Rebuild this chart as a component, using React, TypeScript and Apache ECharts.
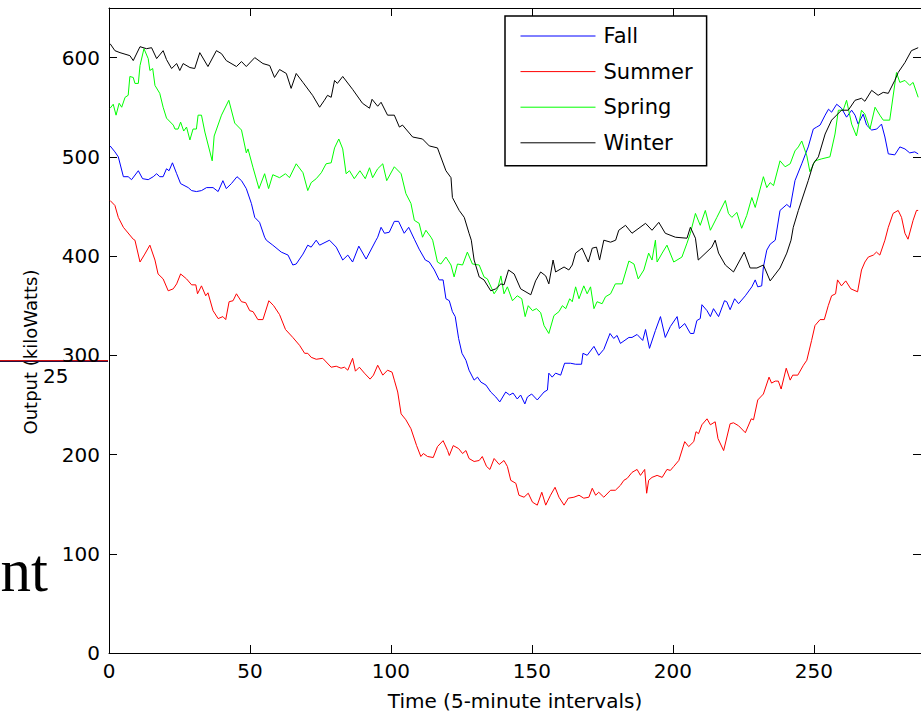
import React, { useEffect, useRef } from "react";
import * as echarts from "echarts";

const seriesNames = ["Fall", "Summer", "Spring", "Winter"];
const seriesColors = ["#0000ff", "#ff0000", "#00ff00", "#000000"];
const xTicks = [0, 50, 100, 150, 200, 250];
const yTicks = [0, 100, 200, 300, 400, 500, 600];

const fall: [number, number][] = [
  [0.4,511],[2.1,505],[3.3,500],[5.1,480],[6.8,480],[8,477],[10.4,486],[11.9,478],[13.9,477],[15.7,480],[16.9,483],[18,480],[19.2,480],[20.4,488],[21.3,486],[22.5,494],[24,483],[25.4,473],[28.1,469],[29.3,466],[31,465],[32.8,466],[34.6,469],[36.9,469],[38.7,465],[40.4,476],[41.6,468],[43.4,473],[45.4,480],[47,476],[48.7,468],[50.5,453],[51.7,439],[53.4,434],[55.2,419],[55.8,416],[58.1,411],[61.1,404],[63.5,401],[65.2,391],[66.4,392],[68.8,402],[70.5,411],[71.7,409],[73.5,416],[74.7,411],[78.2,416],[80.6,409],[82.9,396],[84.7,401],[86.4,394],[88.6,410],[91.2,397],[94.7,416],[95.3,419],[96.5,429],[97.7,423],[99.4,424],[101.2,435],[102.7,435],[104.7,423],[106.3,429],[108.3,417],[110,407],[112.2,396],[113.6,394],[115.4,386],[117.1,376],[118.5,376],[119.5,357],[120.7,355],[121.8,344],[122.8,339],[124,317],[125.2,302],[126.6,295],[127.7,285],[129.5,275],[130.7,278],[131.9,273],[133.7,270],[135.4,263],[137.2,258],[138.6,253],[140.7,263],[142.1,260],[143.3,262],[144.8,256],[146,260],[147.5,251],[148.4,258],[149.9,261],[151.9,255],[154.3,263],[155.5,265],[156,282],[157.2,278],[158.4,282],[160.2,280],[161.6,292],[163.7,292],[165.5,291],[167.6,291],[168.1,302],[169.6,300],[172,309],[173.7,300],[175.5,306],[177.7,322],[179,317],[180.2,320],[181.4,312],[184.4,318],[185.5,318],[187.3,321],[189.3,315],[190.3,326],[191.7,307],[193.8,325],[195.6,339],[197.3,318],[199.1,329],[201.5,339],[202.3,327],[204.2,332],[206.2,322],[207.4,322],[208.5,335],[209.7,337],[210.3,351],[212.1,345],[213.3,339],[214.4,347],[216.2,339],[218.3,355],[219.1,354],[220.3,346],[221.9,357],[223.3,352],[225.7,360],[228,369],[229.2,376],[230.1,369],[231.5,370],[232.1,389],[233.3,406],[234.5,412],[236.3,416],[238,446],[240.4,452],[241.6,449],[243.3,476],[245.7,493],[248,510],[249.8,528],[251,530],[252.2,532],[254,542],[255.2,548],[256.3,545],[258.1,553],[259.8,549],[261.6,540],[263.4,547],[264.6,542],[265.7,533],[267.5,543],[268.7,532],[270.5,527],[272.3,528],[274,533],[275.2,520],[276.4,503],[278.7,502],[280.5,510],[282.3,508],[284,504],[285.8,505],[287,503]
];

const summer: [number, number][] = [
  [0.4,456],[2.1,451],[3.3,439],[5.1,429],[8.6,417],[9.2,416],[11,394],[12.7,402],[14.5,411],[16.3,396],[17.4,382],[19.2,377],[21,365],[22.8,367],[24,372],[25.4,382],[27.5,377],[29.3,371],[30.8,371],[31.4,362],[32.8,370],[34.3,360],[35.1,363],[36.9,345],[38.7,337],[40.4,339],[41.4,336],[42.6,354],[44,355],[45.2,362],[47,354],[48.5,353],[49.9,345],[51.1,344],[52.8,336],[54.6,336],[56.7,355],[58.4,350],[60.5,341],[62.6,326],[65.2,318],[67.6,310],[69.4,302],[70.5,302],[71.7,298],[73.5,296],[75.8,297],[78.8,288],[80.6,289],[82.3,287],[83.5,288],[84.7,285],[86.4,297],[87.4,284],[88.8,288],[90.6,282],[92.6,276],[93.8,280],[95.3,290],[97.1,280],[98.8,285],[100.4,283],[101.2,275],[102.4,263],[103.6,241],[105.3,235],[107.1,226],[109.1,209],[110.6,198],[111.5,201],[113,198],[115,197],[116.5,208],[118.5,214],[120.1,204],[120.7,199],[122.1,209],[124,206],[125.4,201],[126.6,204],[127.7,196],[129.5,193],[131.3,194],[132.4,198],[133.9,188],[135.1,185],[136.6,196],[138.4,190],[140.1,194],[141.3,188],[142.5,174],[144.3,171],[145.4,159],[147.2,157],[148.7,161],[150.2,152],[151.9,149],[153.5,162],[154.9,149],[156.6,159],[158.2,167],[159.6,157],[161.4,149],[162.9,156],[164.9,157],[166.7,159],[168.4,156],[170.2,157],[171.4,166],[172.6,159],[173.7,162],[175.5,157],[177.9,164],[179.6,164],[181.4,169],[182.6,174],[183.8,176],[185.5,182],[187.3,185],[188.5,179],[190,185],[190.7,161],[191.4,174],[192.6,177],[194.4,179],[196.2,177],[197.9,185],[199.1,184],[200.3,188],[202.1,194],[204.2,213],[205.6,208],[207.4,213],[208.2,223],[209.1,221],[210.3,230],[212.1,236],[213.3,230],[215,233],[216,216],[218,204],[220.3,231],[221.5,232],[223.3,229],[225.7,222],[227.8,236],[228.6,235],[230.1,255],[232.1,261],[234.1,278],[235,272],[236.3,274],[237.4,274],[238.4,266],[240.2,287],[241.6,275],[242.5,280],[244.3,280],[246.3,290],[247.5,295],[249.2,315],[250.4,330],[252.2,336],[253.7,336],[255.1,350],[256.3,360],[257.7,362],[258.4,376],[259.8,370],[261.3,375],[263.1,367],[265.5,364],[266.9,386],[268.1,394],[269.3,399],[271.1,401],[272.2,404],[273.4,401],[275.2,416],[276.4,429],[278.1,443],[279.9,446],[281.1,439],[282.3,423],[283.4,417],[285.2,436],[286.4,446],[287,446]
];

const spring: [number, number][] = [
  [0.4,549],[1.5,553],[2.5,542],[3.6,554],[4.5,550],[5.7,560],[6.8,562],[7.4,581],[8.6,580],[9.2,574],[10.4,574],[11,592],[12.4,609],[13.9,599],[14.5,587],[15.5,589],[16.3,572],[18,564],[19.2,550],[20.4,539],[22.8,532],[23.4,528],[24.5,528],[25.4,535],[26.5,526],[27.5,530],[28.7,517],[29.8,528],[31,528],[31.6,542],[32.8,542],[34,525],[36.6,496],[37.3,521],[39.9,542],[42.5,557],[44.6,534],[47,527],[48.7,504],[49.3,508],[51.1,489],[53.2,468],[55.2,483],[56.6,468],[58.1,482],[60.5,479],[62.6,483],[64,479],[66.4,493],[68.8,484],[70.5,466],[71.7,474],[73.5,478],[75.3,484],[77,493],[78.8,494],[80,509],[81.5,518],[82.9,508],[84.1,483],[85.3,486],[87,478],[89,486],[90.9,478],[92.4,489],[93.5,479],[95.3,488],[97.1,493],[98.5,476],[101.2,490],[103.6,483],[105.3,463],[107.1,453],[108.3,436],[110,433],[111.2,419],[112.4,426],[114.2,419],[114.8,416],[116.5,394],[117.7,392],[119.5,399],[121.3,391],[122.4,379],[123.6,392],[125.4,391],[127.1,404],[128.9,392],[131.3,391],[133,379],[134.2,377],[136.6,362],[137.8,367],[139,380],[140.1,362],[141.3,369],[143.1,355],[144.8,360],[146.4,357],[147.6,339],[148.7,350],[150.2,345],[151.6,347],[153.1,343],[154.3,330],[156,322],[157.8,340],[159.6,344],[160.8,350],[162,347],[163.4,357],[164.3,354],[165.5,369],[166.7,357],[168.4,370],[169.6,362],[170.8,369],[172,347],[173.1,354],[174.9,352],[176.1,359],[177.9,362],[179.6,372],[182,372],[184.4,395],[186.2,392],[187.7,377],[189.7,386],[191.4,403],[192.6,396],[193.8,416],[194.4,394],[196.2,403],[197.9,411],[200.3,394],[203.2,399],[205,413],[206.2,423],[208,443],[209.7,431],[211.5,446],[213.3,426],[215.6,439],[218.6,456],[219.7,443],[220.9,439],[222.7,444],[224.4,428],[226.2,441],[228,459],[229.2,449],[232.1,480],[233.3,469],[234.5,474],[235.7,471],[238,496],[239.8,490],[241.6,493],[243.3,506],[244.5,510],[245.7,516],[247.5,501],[248.6,485],[250.4,496],[252.8,498],[255.7,500],[257.5,523],[258.7,547],[260.4,547],[261.6,557],[263.4,533],[265.1,521],[266.9,547],[268.1,543],[269.9,528],[271.7,550],[273.4,542],[274.6,537],[276.9,537],[279.3,585],[280.5,575],[282.3,577],[284,572],[285.2,575],[287,560]
];

const winter: [number, number][] = [
  [0.4,614],[2.1,607],[3.9,605],[7.4,602],[8.6,597],[11,611],[13.3,609],[15.1,610],[16.9,599],[19.2,607],[20.4,598],[22.2,589],[24,594],[25.1,587],[26.3,594],[28.7,590],[30.4,589],[32.2,605],[35.1,591],[38.1,607],[39.9,604],[41.6,597],[45.2,591],[47,596],[48.7,591],[51.7,600],[54.6,594],[57,592],[58.7,580],[60.5,588],[62.9,584],[64.6,569],[66.4,584],[68.8,575],[72.2,562],[74.7,550],[76.4,557],[77.5,562],[78.8,560],[80,577],[81,574],[82.9,581],[86.4,568],[89.9,554],[92.4,549],[93.3,558],[95.3,551],[96.5,555],[98.8,542],[101.2,542],[103,530],[104.1,532],[107.7,520],[111.2,518],[113.6,511],[116.5,509],[119.5,486],[121.3,479],[121.8,459],[124.2,446],[126,439],[127.7,423],[128.5,416],[129.5,396],[131.3,379],[133,376],[135.4,365],[137.2,367],[139,372],[140.1,371],[141.7,386],[143.7,382],[146,367],[149.6,361],[151.3,375],[153.1,384],[154.9,380],[156,372],[157.5,396],[158.4,384],[161.4,389],[163.1,386],[164.3,391],[165.5,403],[167.8,408],[170,394],[171.4,408],[172.9,409],[174,396],[175.5,416],[177.9,414],[179.7,416],[180.8,426],[183.2,431],[185.5,423],[190.3,433],[192.6,426],[195,434],[197.3,423],[200.9,419],[205,418],[206.2,429],[208,418],[209,396],[213.8,409],[215,416],[216.2,403],[218.6,391],[221.5,384],[225.3,404],[227.4,388],[229.8,388],[232.1,391],[234.5,375],[238,388],[240.4,403],[241.9,416],[242.7,429],[244.5,446],[248,476],[249.8,493],[251.6,500],[254,523],[256.3,537],[259.8,547],[262.2,547],[264.6,557],[266.9,559],[268.1,556],[270.5,567],[272.8,562],[274.6,565],[276.4,564],[278.7,577],[279.9,585],[282.3,595],[284.6,607],[287,610]
];

const seriesData = [fall, summer, spring, winter];

const FONT = "DejaVu Sans";

export default function App() {
  const ref = useRef<HTMLDivElement>(null);
  useEffect(() => {
    if (!ref.current) return;
    const chart = echarts.init(ref.current, null, { renderer: "svg" });
    const axisCommon = {
      axisLine: { show: true, onZero: false, lineStyle: { color: "#000", width: 1 } },
      axisTick: { show: true, inside: true, length: 8, lineStyle: { color: "#000", width: 1 } },
      splitLine: { show: false },
    };
    const xFmt = (v: number) => (xTicks.includes(v) ? String(v) : "");
    const yFmt = (v: number) => (yTicks.includes(v) ? String(v) : "");
    chart.setOption({
      animation: false,
      backgroundColor: "#ffffff",
      grid: { left: 109, right: 0, top: 8, bottom: 63, containLabel: false },
      xAxis: [
        {
          type: "value", min: 0, max: 288, interval: 50, position: "bottom",
          ...axisCommon,
          axisLabel: { show: true, margin: 8, color: "#000", fontSize: 20, fontFamily: FONT, formatter: xFmt, showMaxLabel: false },
          name: "Time (5-minute intervals)", nameLocation: "middle", nameGap: 38,
          nameTextStyle: { color: "#000", fontSize: 20, fontFamily: FONT },
        },
        {
          type: "value", min: 0, max: 288, interval: 50, position: "top",
          ...axisCommon,
          axisLabel: { show: false },
        },
      ],
      yAxis: [
        {
          type: "value", min: 0, max: 650, interval: 100, position: "left",
          ...axisCommon,
          axisLabel: { show: true, margin: 9, color: "#000", fontSize: 20, fontFamily: FONT, formatter: yFmt, showMaxLabel: false },
        },
        {
          type: "value", min: 0, max: 650, interval: 100, position: "right",
          ...axisCommon,
          axisLabel: { show: false },
        },
      ],
      legend: {
        show: true, orient: "vertical", left: 505, top: 16,
        itemWidth: 75, itemHeight: 14, itemGap: 14.6,
        padding: [9.5, 14, 12.5, 15],
        borderColor: "#000", borderWidth: 1.5, backgroundColor: "#fff",
        itemStyle: { opacity: 0 },
        lineStyle: { width: 1 },
        textStyle: { fontFamily: FONT, fontSize: 21, color: "#000", padding: [0, 0, 0, 3] },
        data: seriesNames,
      },
      series: seriesNames.map((name, i) => ({
        name, type: "line", data: seriesData[i], xAxisIndex: 0, yAxisIndex: 0,
        symbol: "none", showSymbol: false, smooth: false,
        lineStyle: { color: seriesColors[i], width: 1 },
        itemStyle: { color: seriesColors[i] },
      })),
      graphic: [
        {
          type: "text", x: 30, y: 352, rotation: Math.PI / 2,
          style: { text: "Output (kiloWatts)", font: `18px "${FONT}"`, fill: "#000", align: "center", verticalAlign: "middle" },
        },
        {
          type: "line", shape: { x1: 0, y1: 360.5, x2: 108, y2: 360.5 },
          style: { stroke: "#cc1010", lineWidth: 1 },
        },
        {
          type: "line", shape: { x1: 0, y1: 361.5, x2: 108, y2: 361.5 },
          style: { stroke: "#2a1040", lineWidth: 1 },
        },
        {
          type: "text", x: 43, y: 376,
          style: { text: "25", font: `20px "${FONT}"`, fill: "#000", align: "left", verticalAlign: "middle" },
        },
        {
          type: "text", x: 48, y: 540,
          style: { text: "nt", font: `61px "Liberation Serif"`, fill: "#000", align: "right", verticalAlign: "alphabetic" },
        },
      ],
    });
    return () => chart.dispose();
  }, []);
  return <div ref={ref} style={{ position: "absolute", left: 0, top: 0, width: 921, height: 716 }} />;
}
